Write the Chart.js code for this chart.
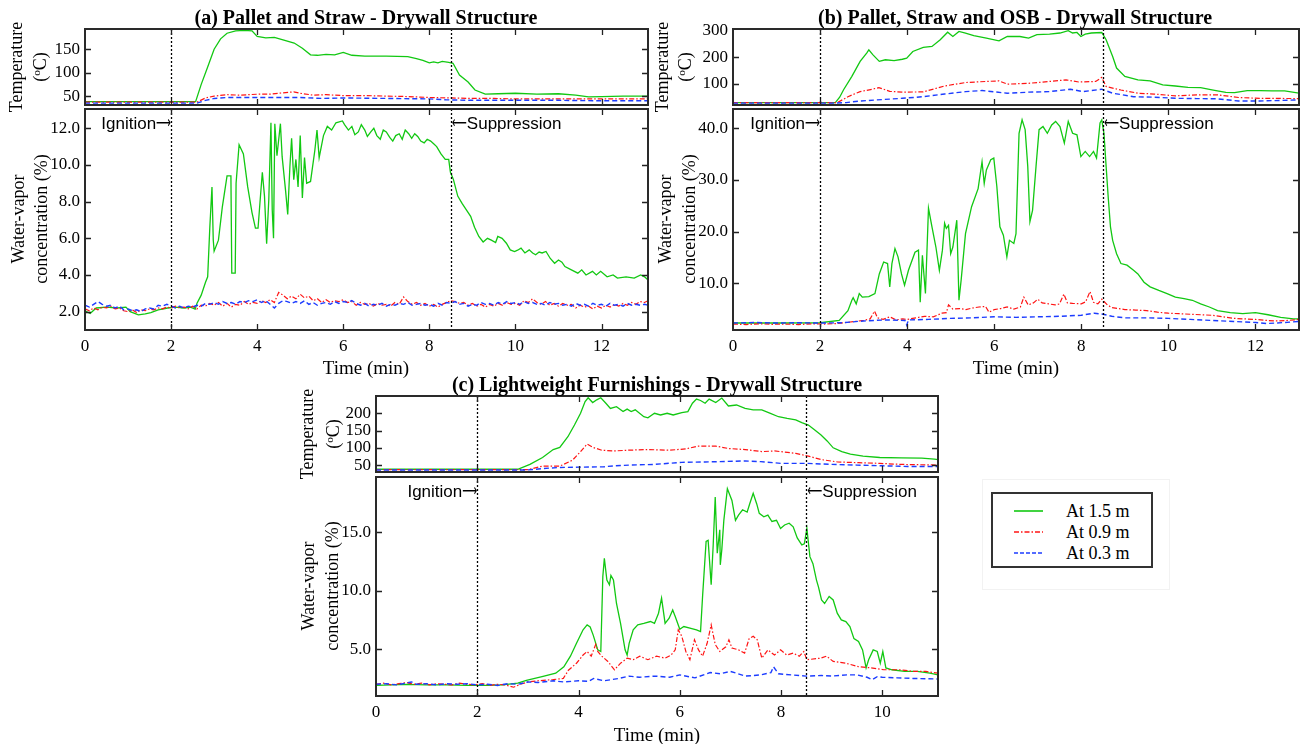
<!DOCTYPE html>
<html><head><meta charset="utf-8">
<script src="https://cdn.jsdelivr.net/npm/chart.js@4.4.1/dist/chart.umd.min.js"></script>
<style>
body{margin:0;background:#fff;width:1304px;height:744px;position:relative;overflow:hidden;font-family:'Liberation Serif','Times New Roman',serif;}
canvas{position:absolute;}
.t{position:absolute;white-space:nowrap;color:#000;line-height:1;}
.title{font-weight:bold;font-size:20px;transform:translate(-50%,-50%);}
.xl{font-size:19px;transform:translate(-50%,-50%);}
.yl{font-size:18px;transform:translate(-50%,-50%) rotate(-90deg);}
sup{font-size:0.62em;vertical-align:0.55em;}
#legend{position:absolute;left:991px;top:492px;width:158px;height:72px;border:2px solid #333;background:#fff;}
#legendOuter{position:absolute;left:982px;top:479px;width:186px;height:109px;border:1px solid #f2f2f2;}
.lr{position:absolute;left:0;height:20px;width:158px;}
.lr svg{position:absolute;left:20px;top:4px;}
.lr span{position:absolute;left:73px;top:0;font-size:18px;line-height:20px;}
</style></head><body>
<script>
// ---------- tick / event values ----------
const xTicksAB = [0, 2, 4, 6, 8, 10, 12];
const xTicksC = [0, 2, 4, 6, 8, 10];
const tempTicksA = [50, 100, 150];
const tempTicksB = [100, 200, 300];
const tempTicksC = [50, 100, 150, 200];
const vapTicksA = [2, 4, 6, 8, 10, 12];
const vapTicksB = [10, 20, 30, 40];
const vapTicksC = [5, 10, 15];
const eventTimes = [2, 8.5];
const eventLabels = ['Ignition', 'Suppression'];
const seriesNames = ['At 1.5 m', 'At 0.9 m', 'At 0.3 m'];

// ---------- (a) Pallet and Straw: [time (min), value] ----------
const aTemp15 = [[0,38],[2.57,38],[2.7,75],[2.85,112],[3.0,150],[3.15,172],[3.3,184],[3.5,189],[3.7,190],[3.88,189],[4.0,177],[4.2,174],[4.4,175],[4.6,170],[4.86,163],[5.05,152],[5.24,138],[5.4,137],[5.6,139],[5.8,138],[6.0,143],[6.2,137],[6.5,135],[7.0,135],[7.5,134],[7.7,130],[7.85,126],[8.0,121],[8.1,123],[8.2,121],[8.3,124],[8.45,122],[8.55,120],[8.7,95],[8.9,80],[9.06,63],[9.3,54],[9.6,55],[10.0,56],[10.5,54],[11.0,55],[11.4,52],[11.7,48.5],[12.0,49],[12.5,50],[13.08,50]];
const aTemp09 = [[0,37],[2.6,37],[2.8,46],[3.0,50],[3.3,53],[3.6,52],[4.0,54],[4.3,54],[4.6,57],[4.85,59],[5.0,56],[5.3,52],[5.6,53],[6.0,51],[6.5,51],[7.0,50],[7.5,49],[8.0,47],[8.5,46],[9.0,45],[9.5,45],[10.0,44],[11.0,44],[12.0,44],[13.08,44]];
const aTemp03 = [[0,35],[2.6,35],[2.8,41],[3.0,45],[3.3,47],[4.0,47],[5.0,47],[5.5,45],[6.0,46],[7.0,45],[8.0,44],[8.4,42],[9.0,41],[10.0,41],[11.0,41],[12.0,40],[13.08,40]];
const aVap15 = [[0,2.05],[0.12,1.9],[0.26,2.2],[0.5,2.25],[0.75,2.2],[0.95,2.25],[1.05,2.0],[1.24,1.83],[1.4,1.88],[1.53,1.95],[1.7,2.1],[1.92,2.2],[2.1,2.25],[2.3,2.2],[2.45,2.25],[2.56,2.14],[2.6,2.45],[2.7,2.9],[2.8,3.6],[2.85,3.9],[2.9,6.6],[2.95,8.8],[2.98,5.9],[3.0,5.3],[3.1,5.9],[3.19,7.7],[3.3,9.4],[3.39,9.4],[3.41,4.1],[3.49,4.1],[3.51,9.0],[3.58,11.1],[3.68,10.6],[3.78,8.8],[3.88,7.4],[3.96,6.55],[4.02,6.55],[4.07,8.1],[4.12,9.6],[4.17,8.3],[4.22,5.7],[4.27,8.1],[4.32,12.3],[4.35,7.55],[4.38,6.0],[4.41,12.25],[4.46,10.5],[4.54,12.25],[4.58,10.45],[4.66,8.6],[4.71,7.3],[4.76,9.9],[4.8,11.45],[4.85,9.2],[4.9,10.3],[4.95,8.8],[5.0,11.6],[5.05,8.2],[5.1,10.4],[5.15,9.0],[5.24,9.1],[5.34,10.8],[5.39,11.9],[5.44,10.4],[5.54,11.6],[5.63,12.1],[5.73,11.9],[5.83,12.3],[5.98,12.4],[6.03,12.2],[6.12,11.9],[6.2,12.1],[6.27,11.65],[6.35,11.8],[6.42,12.2],[6.5,11.9],[6.56,11.55],[6.64,11.8],[6.71,12.0],[6.78,11.6],[6.86,11.4],[6.93,11.9],[7.0,11.8],[7.08,11.5],[7.15,11.3],[7.22,11.6],[7.3,11.7],[7.37,11.4],[7.44,11.9],[7.52,11.7],[7.59,11.45],[7.66,11.7],[7.73,11.55],[7.8,11.3],[7.88,11.2],[7.95,11.4],[8.03,11.3],[8.1,11.15],[8.17,11.0],[8.27,10.6],[8.37,10.3],[8.45,10.3],[8.49,9.6],[8.56,9.2],[8.66,8.3],[8.76,7.9],[8.86,7.55],[8.96,7.2],[9.05,6.6],[9.15,6.1],[9.25,5.8],[9.35,6.0],[9.44,5.9],[9.54,5.77],[9.59,6.1],[9.69,6.0],[9.79,5.73],[9.88,5.37],[9.98,5.28],[10.05,5.35],[10.13,5.46],[10.22,5.2],[10.32,5.37],[10.4,5.2],[10.47,5.1],[10.55,5.25],[10.62,5.2],[10.71,5.28],[10.81,4.9],[10.91,4.64],[11.0,4.82],[11.08,4.7],[11.15,4.46],[11.3,4.28],[11.45,4.1],[11.54,4.28],[11.64,4.0],[11.79,4.2],[11.88,4.0],[11.98,4.2],[12.13,3.9],[12.27,4.0],[12.37,3.83],[12.57,3.9],[12.76,3.83],[12.91,4.0],[13.0,3.9],[13.08,3.73]];
const aVap09 = [[0,2.15],[0.1,2.05],[0.2,2.2],[0.3,2.1],[0.4,2.25],[0.5,2.2],[0.6,2.3],[0.7,2.15],[0.8,2.2],[0.9,2.05],[1.0,2.0],[1.1,2.1],[1.2,1.95],[1.3,2.1],[1.4,2.05],[1.5,2.15],[1.6,2.1],[1.7,2.2],[1.8,2.15],[1.9,2.25],[2.0,2.2],[2.1,2.3],[2.2,2.2],[2.3,2.25],[2.4,2.15],[2.5,2.3],[2.6,2.15],[2.7,2.35],[2.8,2.3],[2.9,2.45],[3.0,2.35],[3.1,2.5],[3.2,2.3],[3.3,2.45],[3.4,2.25],[3.5,2.4],[3.6,2.35],[3.7,2.55],[3.8,2.4],[3.9,2.5],[4.0,2.45],[4.1,2.6],[4.2,2.5],[4.3,2.65],[4.4,2.5],[4.5,3.05],[4.6,2.9],[4.7,2.7],[4.8,2.85],[4.9,2.7],[5.0,2.95],[5.1,2.75],[5.2,2.85],[5.3,2.6],[5.4,2.7],[5.5,2.5],[5.6,2.65],[5.7,2.5],[5.8,2.6],[5.9,2.55],[6.0,2.65],[6.1,2.5],[6.2,2.55],[6.3,2.35],[6.4,2.5],[6.5,2.4],[6.6,2.45],[6.7,2.3],[6.8,2.45],[6.9,2.35],[7.0,2.4],[7.1,2.3],[7.2,2.5],[7.3,2.4],[7.4,2.8],[7.5,2.55],[7.6,2.4],[7.7,2.5],[7.8,2.35],[7.9,2.45],[8.0,2.3],[8.1,2.4],[8.2,2.25],[8.3,2.4],[8.4,2.5],[8.5,2.6],[8.6,2.55],[8.7,2.45],[8.8,2.5],[8.9,2.35],[9.0,2.45],[9.1,2.3],[9.2,2.4],[9.3,2.25],[9.4,2.4],[9.5,2.3],[9.6,2.45],[9.7,2.35],[9.8,2.5],[9.9,2.4],[10.0,2.45],[10.1,2.35],[10.2,2.6],[10.3,2.5],[10.4,2.7],[10.5,2.5],[10.6,2.4],[10.7,2.55],[10.8,2.35],[10.9,2.45],[11.0,2.3],[11.1,2.45],[11.2,2.35],[11.3,2.4],[11.4,2.2],[11.5,2.35],[11.6,2.25],[11.7,2.3],[11.8,2.15],[11.9,2.3],[12.0,2.2],[12.1,2.35],[12.2,2.25],[12.3,2.4],[12.4,2.3],[12.5,2.45],[12.6,2.35],[12.7,2.5],[12.8,2.4],[12.9,2.55],[13.0,2.5],[13.08,2.6]];
const aVap03 = [[0,2.35],[0.1,2.25],[0.2,2.4],[0.3,2.55],[0.4,2.4],[0.5,2.3],[0.6,2.35],[0.7,2.2],[0.8,2.3],[0.9,2.1],[1.0,2.15],[1.1,2.05],[1.2,2.1],[1.3,2.0],[1.4,2.15],[1.5,2.2],[1.6,2.15],[1.7,2.35],[1.8,2.3],[1.9,2.4],[2.0,2.3],[2.1,2.2],[2.2,2.3],[2.3,2.2],[2.4,2.3],[2.5,2.25],[2.6,2.35],[2.7,2.3],[2.8,2.45],[2.9,2.4],[3.0,2.5],[3.1,2.4],[3.2,2.55],[3.3,2.45],[3.4,2.5],[3.5,2.4],[3.6,2.55],[3.7,2.5],[3.8,2.6],[3.9,2.55],[4.0,2.65],[4.1,2.5],[4.2,2.6],[4.3,2.4],[4.4,2.2],[4.5,2.45],[4.6,2.6],[4.7,2.55],[4.8,2.45],[4.9,2.55],[5.0,2.45],[5.1,2.6],[5.2,2.4],[5.3,2.5],[5.4,2.35],[5.5,2.45],[5.6,2.5],[5.7,2.4],[5.8,2.55],[5.9,2.45],[6.0,2.55],[6.1,2.5],[6.2,2.6],[6.3,2.45],[6.4,2.35],[6.5,2.45],[6.6,2.3],[6.7,2.4],[6.8,2.35],[6.9,2.45],[7.0,2.3],[7.1,2.4],[7.2,2.35],[7.3,2.45],[7.4,2.4],[7.5,2.5],[7.6,2.35],[7.7,2.4],[7.8,2.45],[7.9,2.35],[8.0,2.4],[8.1,2.3],[8.2,2.45],[8.3,2.35],[8.4,2.5],[8.5,2.45],[8.6,2.55],[8.7,2.4],[8.8,2.45],[8.9,2.3],[9.0,2.4],[9.1,2.35],[9.2,2.5],[9.3,2.4],[9.4,2.45],[9.5,2.35],[9.6,2.5],[9.7,2.4],[9.8,2.55],[9.9,2.45],[10.0,2.5],[10.1,2.4],[10.2,2.55],[10.3,2.45],[10.4,2.5],[10.5,2.4],[10.6,2.45],[10.7,2.35],[10.8,2.5],[10.9,2.4],[11.0,2.45],[11.1,2.35],[11.2,2.4],[11.3,2.3],[11.4,2.45],[11.5,2.35],[11.6,2.4],[11.7,2.3],[11.8,2.45],[11.9,2.35],[12.0,2.4],[12.1,2.3],[12.2,2.45],[12.3,2.35],[12.4,2.4],[12.5,2.3],[12.6,2.45],[12.7,2.35],[12.8,2.4],[12.9,2.35],[13.0,2.4],[13.08,2.35]];

// ---------- (b) Pallet, Straw and OSB ----------
const bTemp15 = [[0,30],[2.35,30],[2.45,50],[2.54,78],[2.73,128],[2.92,184],[3.07,215],[3.12,227],[3.21,209],[3.36,184],[3.5,190],[3.7,187],[3.89,192],[3.99,196],[4.13,221],[4.37,236],[4.57,240],[4.76,265],[4.93,293],[5.05,277],[5.19,296],[5.34,290],[5.53,280],[5.82,271],[6.11,261],[6.3,277],[6.59,277],[6.79,271],[6.98,284],[7.27,286],[7.51,290],[7.7,299],[7.8,290],[7.9,292],[7.99,277],[8.09,286],[8.23,290],[8.47,292],[8.57,265],[8.72,202],[8.81,159],[9.0,128],[9.3,115],[9.58,111],[9.87,96],[10.16,92],[10.45,87],[10.74,86],[11.03,77],[11.32,68],[11.52,67],[11.81,75],[12.1,75],[12.38,74],[12.67,74],[13.0,65]];
const bTemp09 = [[0,30],[2.4,30],[2.64,52],[2.92,71],[3.2,80],[3.35,86],[3.6,72],[3.9,69],[4.37,70],[4.86,92],[5.34,105],[5.82,109],[6.11,111],[6.3,99],[6.79,102],[7.27,109],[7.65,115],[7.94,107],[8.33,109],[8.47,124],[8.57,90],[8.91,77],[9.3,65],[9.68,62],[10.16,55],[10.65,59],[11.13,59],[11.61,49],[12.1,46],[13.0,45]];
const bTemp03 = [[0,28],[2.3,28],[2.6,30],[2.92,36],[3.89,46],[4.37,52],[4.86,62],[5.34,71],[5.72,75],[6.3,65],[6.79,69],[7.27,71],[7.75,80],[8.04,71],[8.47,80],[8.72,65],[9.2,52],[9.68,50],[10.16,46],[10.65,45],[11.13,44],[11.61,36],[12.1,36],[13.0,40]];
const bVap15 = [[0,2.3],[1.0,2.3],[2.0,2.35],[2.44,2.8],[2.64,4.7],[2.73,6.7],[2.76,7.2],[2.83,6.0],[2.9,8.0],[2.97,7.3],[3.12,7.4],[3.26,8.0],[3.36,11.8],[3.46,14.1],[3.55,13.8],[3.6,9.3],[3.65,13.8],[3.72,16.7],[3.79,15.1],[3.87,11.8],[3.94,9.6],[4.03,12.5],[4.18,16.0],[4.26,16.4],[4.3,6.3],[4.35,15.4],[4.42,8.0],[4.49,24.5],[4.57,20.9],[4.66,17.0],[4.74,12.5],[4.81,16.4],[4.86,21.6],[4.9,20.6],[4.95,21.2],[5.0,15.7],[5.05,17.0],[5.14,22.2],[5.19,6.7],[5.24,10.6],[5.34,19.6],[5.48,24.8],[5.63,28.3],[5.72,33.5],[5.77,29.3],[5.82,31.9],[5.92,33.9],[5.99,34.2],[6.06,28.7],[6.13,20.9],[6.21,19.3],[6.29,15.1],[6.35,18.3],[6.45,17.7],[6.5,19.6],[6.57,39.0],[6.64,41.6],[6.71,39.7],[6.77,32.6],[6.82,21.9],[6.88,24.1],[6.96,32.6],[7.03,39.7],[7.12,40.3],[7.22,39.0],[7.32,40.6],[7.41,41.3],[7.51,40.3],[7.61,37.1],[7.7,41.3],[7.8,39.0],[7.9,38.7],[7.99,34.5],[8.09,35.5],[8.19,34.5],[8.28,35.5],[8.35,34.2],[8.43,41.0],[8.47,41.6],[8.52,39.0],[8.57,32.6],[8.62,26.4],[8.67,20.9],[8.72,18.3],[8.81,15.7],[8.91,13.8],[9.05,13.5],[9.2,12.5],[9.3,11.8],[9.44,10.2],[9.58,9.3],[9.78,8.6],[9.97,8.0],[10.16,7.3],[10.36,7.0],[10.55,6.7],[10.74,6.0],[10.94,5.4],[11.13,4.7],[11.42,4.3],[11.71,4.1],[12.0,4.3],[12.29,3.9],[12.58,3.4],[12.87,3.1],[13.0,3.1]];
const bVap09 = [[0,2.1],[0.3,2.0],[0.6,2.15],[0.9,2.05],[1.2,2.1],[1.5,2.0],[1.8,2.15],[2.1,2.1],[2.4,2.2],[2.6,2.4],[2.8,2.6],[3.0,2.8],[3.15,3.1],[3.25,4.6],[3.32,3.3],[3.45,3.0],[3.6,3.5],[3.75,2.9],[3.9,3.1],[4.0,3.0],[4.2,3.3],[4.4,3.6],[4.6,3.5],[4.8,4.2],[4.9,4.3],[4.95,5.8],[5.05,5.0],[5.2,5.1],[5.35,4.9],[5.5,5.2],[5.65,5.4],[5.8,5.5],[5.88,4.4],[6.0,4.9],[6.15,5.1],[6.3,5.4],[6.45,5.0],[6.6,5.4],[6.68,7.3],[6.78,5.8],[6.9,6.2],[7.0,6.9],[7.1,6.2],[7.25,6.0],[7.4,5.8],[7.5,6.0],[7.6,7.9],[7.68,6.2],[7.8,6.1],[8.0,6.0],[8.1,6.4],[8.2,8.4],[8.28,6.3],[8.38,6.0],[8.47,6.9],[8.6,5.8],[8.7,5.3],[8.85,5.1],[9.0,4.9],[9.25,4.8],[9.5,4.7],[9.75,4.4],[10.0,4.2],[10.25,4.1],[10.5,4.0],[10.75,3.9],[11.0,3.8],[11.25,3.5],[11.5,3.2],[11.75,3.1],[12.0,3.0],[12.25,2.8],[12.5,2.7],[12.75,2.8],[13.0,3.0]];
const bVap03 = [[0,2.3],[0.5,2.4],[1.0,2.3],[1.5,2.35],[2.0,2.3],[2.5,2.35],[3.0,2.7],[3.5,2.9],[3.95,2.8],[3.99,1.9],[4.03,2.9],[4.5,3.0],[5.0,3.2],[5.5,3.3],[6.0,3.5],[6.5,3.4],[7.0,3.5],[7.5,3.6],[8.0,3.8],[8.3,4.2],[8.5,4.0],[8.7,3.6],[9.0,3.3],[9.5,3.3],[10.0,3.2],[10.5,3.0],[11.0,2.8],[11.5,2.6],[12.0,2.4],[12.25,2.2],[12.5,2.3],[13.0,2.6]];

// ---------- (c) Lightweight Furnishings ----------
const cTemp15 = [[0,38],[2.8,38],[3.04,52],[3.29,72],[3.5,95],[3.63,101],[3.79,132],[3.92,166],[4.04,200],[4.13,234],[4.19,245],[4.28,231],[4.36,239],[4.44,245],[4.54,229],[4.63,214],[4.75,219],[4.88,205],[4.96,212],[5.04,205],[5.12,210],[5.29,190],[5.37,187],[5.5,200],[5.62,195],[5.75,200],[5.87,195],[6.04,202],[6.16,205],[6.25,229],[6.33,241],[6.41,237],[6.5,229],[6.58,241],[6.71,231],[6.83,244],[6.96,221],[7.12,224],[7.29,214],[7.45,210],[7.62,210],[7.79,200],[7.95,190],[8.12,185],[8.29,181],[8.41,173],[8.54,166],[8.66,152],[8.79,137],[8.91,120],[9.03,100],[9.2,89],[9.37,82],[9.62,76],[9.95,72],[10.37,71],[10.78,70],[11.03,67],[11.1,66]];
const cTemp09 = [[0,37],[3.0,37],[3.29,47],[3.63,47],[3.88,64],[4.04,89],[4.17,111],[4.29,101],[4.46,93],[4.71,91],[4.96,93],[5.37,95],[5.79,93],[6.12,97],[6.37,105],[6.71,105],[6.96,98],[7.29,95],[7.62,89],[7.87,91],[8.29,84],[8.54,76],[8.79,66],[9.12,59],[9.53,57],[9.95,55],[10.37,52],[11.1,50]];
const cTemp03 = [[0,36],[3.0,36],[3.3,40],[3.6,43],[4.0,44],[4.5,45],[4.71,48],[5.0,50],[5.5,52],[6.04,58],[6.5,59],[7.29,62],[7.6,60],[8.0,55],[8.5,55],[9.0,52],[9.5,50],[10.0,48],[10.5,46],[11.1,46]];
const cVap15 = [[0,1.9],[0.3,1.95],[0.6,2.0],[1.0,1.95],[1.4,1.95],[1.8,1.9],[2.2,1.9],[2.5,1.95],[2.8,2.1],[2.97,2.33],[3.3,2.67],[3.55,2.95],[3.71,3.5],[3.84,4.4],[3.96,5.5],[4.09,6.65],[4.17,7.07],[4.23,6.9],[4.29,6.2],[4.38,4.94],[4.44,4.8],[4.48,11.2],[4.51,12.75],[4.56,10.9],[4.61,10.5],[4.64,11.3],[4.69,10.9],[4.75,8.9],[4.83,7.2],[4.92,4.94],[4.96,4.5],[5.0,5.5],[5.08,6.65],[5.17,7.07],[5.29,7.2],[5.42,7.36],[5.5,7.2],[5.58,8.07],[5.64,9.35],[5.71,7.2],[5.79,7.64],[5.86,8.35],[5.91,7.78],[6.0,6.7],[6.08,6.93],[6.2,6.8],[6.33,6.65],[6.41,6.5],[6.45,9.5],[6.52,14.2],[6.56,14.3],[6.62,10.5],[6.66,13.9],[6.7,18.0],[6.74,13.2],[6.79,15.2],[6.8,12.2],[6.83,13.5],[6.87,16.0],[6.94,18.7],[6.99,18.15],[7.03,17.7],[7.1,16.0],[7.16,16.45],[7.24,16.9],[7.33,16.7],[7.38,17.4],[7.45,18.3],[7.52,17.4],[7.57,16.6],[7.66,16.3],[7.74,16.45],[7.82,15.9],[7.91,16.0],[7.99,15.3],[8.07,15.6],[8.16,15.75],[8.24,15.45],[8.32,14.5],[8.41,13.9],[8.46,14.0],[8.51,15.3],[8.57,12.9],[8.63,12.3],[8.7,10.9],[8.74,10.3],[8.8,9.2],[8.86,8.9],[8.95,9.5],[9.03,9.2],[9.11,8.07],[9.19,7.5],[9.28,7.36],[9.36,6.93],[9.44,5.9],[9.53,5.65],[9.61,4.94],[9.68,3.4],[9.73,4.1],[9.82,4.94],[9.9,4.8],[9.96,3.8],[10.01,4.8],[10.07,3.4],[10.19,3.24],[10.44,3.1],[10.69,3.1],[10.94,2.95],[11.1,2.8]];
const cVap09 = [[0,2.0],[0.15,2.1],[0.3,1.95],[0.45,2.05],[0.6,2.15],[0.75,2.0],[0.9,2.1],[1.05,1.95],[1.2,2.05],[1.35,2.0],[1.5,1.95],[1.65,2.1],[1.8,2.0],[1.95,1.95],[2.1,2.05],[2.25,1.9],[2.4,2.0],[2.55,1.95],[2.72,1.75],[2.85,2.0],[3.0,2.2],[3.2,2.3],[3.5,2.4],[3.7,2.5],[3.8,3.2],[3.96,3.8],[4.09,4.5],[4.17,4.8],[4.25,4.4],[4.34,5.4],[4.38,4.8],[4.46,4.4],[4.58,3.95],[4.71,3.24],[4.83,3.8],[4.96,4.23],[5.08,4.1],[5.21,4.4],[5.37,4.1],[5.54,4.4],[5.71,4.23],[5.83,4.5],[5.91,4.94],[5.97,6.65],[6.04,6.1],[6.12,4.8],[6.2,4.1],[6.29,5.8],[6.37,4.94],[6.45,4.4],[6.54,5.5],[6.62,7.07],[6.7,5.4],[6.79,4.8],[6.91,5.2],[6.97,5.8],[7.03,5.1],[7.16,4.94],[7.28,4.66],[7.37,5.9],[7.45,6.1],[7.53,5.8],[7.62,4.23],[7.74,4.94],[7.87,4.5],[7.99,4.94],[8.11,4.5],[8.24,4.66],[8.36,4.4],[8.45,4.8],[8.51,4.1],[8.78,4.23],[8.9,4.4],[9.03,3.95],[9.28,3.8],[9.53,3.5],[9.78,3.4],[10.03,3.24],[10.36,3.24],[10.6,3.1],[10.86,3.1],[11.1,2.95]];
const cVap03 = [[0,2.0],[0.2,2.05],[0.4,1.95],[0.6,2.1],[0.7,2.2],[0.8,2.0],[1.0,2.05],[1.2,1.95],[1.4,2.05],[1.6,2.0],[1.8,2.05],[2.0,1.95],[2.2,2.0],[2.4,1.9],[2.6,2.05],[2.8,2.0],[3.0,2.2],[3.2,2.15],[3.5,2.3],[3.7,2.2],[4.0,2.3],[4.2,2.25],[4.3,2.5],[4.5,2.3],[4.8,2.5],[5.0,2.7],[5.2,2.6],[5.5,2.7],[5.8,2.6],[6.0,2.8],[6.3,2.55],[6.6,3.0],[6.8,2.9],[7.0,3.1],[7.3,2.7],[7.6,2.8],[7.8,3.0],[7.85,3.5],[7.95,2.9],[8.2,2.8],[8.5,2.7],[8.8,2.75],[9.0,2.7],[9.3,2.8],[9.5,2.8],[9.7,2.6],[9.8,2.4],[9.9,2.65],[10.0,2.6],[10.3,2.55],[10.6,2.5],[11.1,2.45]];

// ---------- styles ----------
const lineColors = ['#12c812', '#ff1414', '#1c3cff'];
const lineWidths = [1.3, 1.2, 1.4];
const lineDashes = [[], [5, 2, 1.5, 2], [5, 3]];

// draw an arrow glyph as text, stretched horizontally to a target width
function drawArrowGlyph(ctx, ch, xLeft, y, targetW) {
  ctx.save();
  ctx.font = '17px "DejaVu Sans", sans-serif';
  ctx.textAlign = 'left';
  const w = ctx.measureText(ch).width || targetW;
  ctx.translate(xLeft, y);
  ctx.scale(targetW / w, 1);
  ctx.fillText(ch, 0, 0);
  ctx.restore();
}

const framePlugin = {
  id: 'frame',
  afterDatasetsDraw(chart, args, opts) {
    const {ctx, chartArea: {left, top, right, bottom}, scales: {x, y}} = chart;
    ctx.save();
    ctx.strokeStyle = '#000'; ctx.lineWidth = 1.3; ctx.setLineDash([2, 2]);
    eventTimes.forEach(t => {
      const px = Math.round(x.getPixelForValue(t)) + 0.5;
      ctx.beginPath(); ctx.moveTo(px, top); ctx.lineTo(px, bottom); ctx.stroke();
    });
    ctx.setLineDash([]);
    ctx.strokeStyle = '#222'; ctx.lineWidth = 1.3;
    const L = 6;
    x.ticks.forEach(tk => {
      const px = Math.round(x.getPixelForValue(tk.value)) + 0.5;
      if (px <= left + 2 || px >= right - 2) return;
      ctx.beginPath(); ctx.moveTo(px, bottom); ctx.lineTo(px, bottom - L);
      ctx.moveTo(px, top); ctx.lineTo(px, top + L); ctx.stroke();
    });
    y.ticks.forEach(tk => {
      const py = Math.round(y.getPixelForValue(tk.value)) + 0.5;
      if (py <= top + 2 || py >= bottom - 2) return;
      ctx.beginPath(); ctx.moveTo(left, py); ctx.lineTo(left + L, py);
      ctx.moveTo(right, py); ctx.lineTo(right - L, py); ctx.stroke();
    });
    ctx.strokeStyle = '#2a2a2a'; ctx.lineWidth = 2;
    ctx.strokeRect(left, top, right - left, bottom - top);
    if (opts && opts.annot) {
      ctx.fillStyle = '#000';
      ctx.textBaseline = 'middle';
      const ty = top + 15;
      const textFont = '17px "Liberation Sans", Arial, sans-serif';
      const AW = 15;
      const xi = x.getPixelForValue(eventTimes[0]);
      drawArrowGlyph(ctx, '\u27F6', xi - AW, ty, AW);
      ctx.font = textFont; ctx.textAlign = 'right';
      ctx.fillText(eventLabels[0], xi - AW, ty);
      const xs = x.getPixelForValue(eventTimes[1]);
      drawArrowGlyph(ctx, '\u27F5', xs + 1, ty, AW);
      ctx.font = textFont; ctx.textAlign = 'left';
      ctx.fillText(eventLabels[1], xs + 1 + AW, ty);
    }
    ctx.restore();
  }
};

function makePanel(p) {
  const padL = 80, padR = 20, padT = 22, padB = p.xLabels ? 34 : 22;
  const [bx0, by0, bx1, by1] = p.box;
  const cv = document.createElement('canvas');
  const W = bx1 - bx0 + padL + padR, H = by1 - by0 + padT + padB;
  cv.width = W; cv.height = H;
  cv.style.left = (bx0 - padL) + 'px'; cv.style.top = (by0 - padT) + 'px';
  cv.style.width = W + 'px'; cv.style.height = H + 'px';
  document.body.appendChild(cv);
  const font = {family: "'Liberation Serif', 'Times New Roman', serif", size: 17};
  new Chart(cv.getContext('2d'), {
    type: 'line',
    data: {
      datasets: p.series.map((s, i) => ({
        label: seriesNames[i],
        data: s.map(([t, v]) => ({x: t, y: v})),
        borderColor: lineColors[i], borderWidth: lineWidths[i], borderDash: lineDashes[i],
        pointRadius: 0, fill: false, tension: 0, order: 3 - i
      }))
    },
    options: {
      responsive: false, animation: false, devicePixelRatio: 1,
      layout: {padding: {top: padT, right: padR, left: 0, bottom: 0}},
      plugins: {legend: {display: false}, tooltip: {enabled: false}, frame: {annot: !!p.annot}},
      scales: {
        x: {
          type: 'linear', min: 0, max: p.xMax,
          afterBuildTicks: s => { s.ticks = p.xTicks.map(v => ({value: v})); },
          afterFit: s => { s.height = padB; },
          grid: {display: false, drawTicks: false}, border: {display: false},
          ticks: {display: !!p.xLabels, font, color: '#000', padding: 6, maxRotation: 0, autoSkip: false}
        },
        y: {
          type: 'linear', min: p.yMin, max: p.yMax,
          afterBuildTicks: s => { s.ticks = p.yTicks.map(v => ({value: v})); },
          afterFit: s => { s.width = padL; },
          grid: {display: false, drawTicks: false}, border: {display: false},
          ticks: {font, color: '#000', padding: 5, callback: v => p.dec ? Number(v).toFixed(1) : v}
        }
      }
    },
    plugins: [framePlugin]
  });
}

const panels = [
  {box: [85, 29, 648, 105], xMax: 13.08, yMin: 31, yMax: 193, xTicks: xTicksAB, yTicks: tempTicksA, series: [aTemp15, aTemp09, aTemp03]},
  {box: [85, 109, 648, 330], xMax: 13.08, yMin: 1.0, yMax: 13.05, xTicks: xTicksAB, yTicks: vapTicksA, dec: true, xLabels: true, annot: true, series: [aVap15, aVap09, aVap03]},
  {box: [733, 29, 1299, 105], xMax: 13.0, yMin: 21, yMax: 305, xTicks: xTicksAB, yTicks: tempTicksB, series: [bTemp15, bTemp09, bTemp03]},
  {box: [733, 109, 1299, 330], xMax: 13.0, yMin: 0.95, yMax: 43.7, xTicks: xTicksAB, yTicks: vapTicksB, dec: true, xLabels: true, annot: true, series: [bVap15, bVap09, bVap03]},
  {box: [376, 396, 938, 472], xMax: 11.1, yMin: 30, yMax: 250, xTicks: xTicksC, yTicks: tempTicksC, series: [cTemp15, cTemp09, cTemp03]},
  {box: [376, 477, 938, 696], xMax: 11.1, yMin: 1.0, yMax: 19.7, xTicks: xTicksC, yTicks: vapTicksC, dec: true, xLabels: true, annot: true, series: [cVap15, cVap09, cVap03]}
];
panels.forEach(makePanel);
</script>

<div class="t title" style="left:366px;top:17px;">(a) Pallet and Straw - Drywall Structure</div>
<div class="t title" style="left:1015px;top:17px;">(b) Pallet, Straw and OSB - Drywall Structure</div>
<div class="t title" style="left:657px;top:384px;">(c) Lightweight Furnishings - Drywall Structure</div>

<div class="t xl" style="left:366px;top:367px;">Time (min)</div>
<div class="t xl" style="left:1016px;top:367px;">Time (min)</div>
<div class="t xl" style="left:657px;top:734px;">Time (min)</div>

<div class="t yl" style="left:16px;top:67px;">Temperature</div>
<div class="t yl" style="left:40px;top:67px;">(<sup>o</sup>C)</div>
<div class="t yl" style="left:18px;top:219px;">Water-vapor</div>
<div class="t yl" style="left:41px;top:219px;">concentration (%)</div>

<div class="t yl" style="left:662px;top:67px;">Temperature</div>
<div class="t yl" style="left:685px;top:67px;">(<sup>o</sup>C)</div>
<div class="t yl" style="left:665px;top:219px;">Water-vapor</div>
<div class="t yl" style="left:689px;top:219px;">concentration (%)</div>

<div class="t yl" style="left:307px;top:434px;">Temperature</div>
<div class="t yl" style="left:333px;top:434px;">(<sup>o</sup>C)</div>
<div class="t yl" style="left:308px;top:586px;">Water-vapor</div>
<div class="t yl" style="left:332px;top:586px;">concentration (%)</div>

<div id="legendOuter"></div>
<div id="legend">
  <div class="lr" style="top:7px;"><svg width="32" height="12"><line x1="1" y1="6" x2="30" y2="6" stroke="#12c812" stroke-width="1.6"/></svg><span>At 1.5 m</span></div>
  <div class="lr" style="top:28px;"><svg width="32" height="12"><line x1="1" y1="6" x2="30" y2="6" stroke="#ff1414" stroke-width="1.3" stroke-dasharray="5,2,1.5,2"/></svg><span>At 0.9 m</span></div>
  <div class="lr" style="top:49px;"><svg width="32" height="12"><line x1="1" y1="6" x2="30" y2="6" stroke="#1c3cff" stroke-width="1.5" stroke-dasharray="4,2"/></svg><span>At 0.3 m</span></div>
</div>
</body></html>
